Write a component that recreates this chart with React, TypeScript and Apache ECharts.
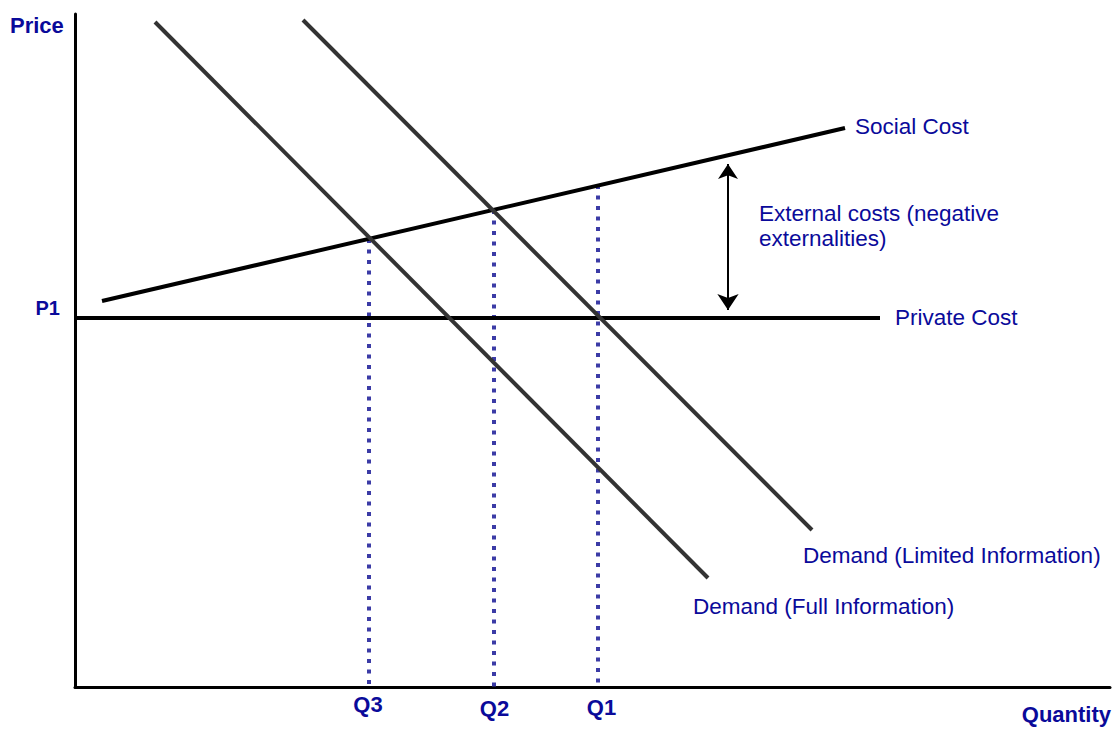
import React, { useEffect, useRef } from "react";
import * as echarts from "echarts";

// Units: quantity and price in arbitrary diagram units
const socialCost = [[27, 386], [770, 559]];
const privateCost = [[0, 369], [805, 369]];
const demandLimited = [[228, 667], [737, 157]];
const demandFull = [[80, 665], [633, 109]];
const quantityNames = ["Q3", "Q2", "Q1"];
const quantityValues = [294, 419, 523];
const quantityPrices = [448, 477, 502];
const externalArrow = [[653, 523], [653, 377]];

const labelTexts = [
  "Social Cost",
  "Private Cost",
  "External costs (negative\nexternalities)",
  "Demand (Limited Information)",
  "Demand (Full Information)",
];
const labelAnchors = [[780, 561], [820, 370], [684, 461], [728, 132], [618, 80.5]];

const axisTexts = ["Price", "P1", "Quantity"];
const axisAnchors = [[-65, 662], [-15, 379], [1036, -27]];
const qLabelPrices = [-17.5, -21, -20.5];
const qLabelQuantities = [293, 419.5, 526.5];

const NAVY = "#0a0a9a";
const FONT = "'Liberation Sans', Arial, sans-serif";

export default function App() {
  const ref = useRef<HTMLDivElement>(null);
  useEffect(() => {
    if (!ref.current) return;
    const chart = echarts.init(ref.current, null, { renderer: "svg" });

    const lineSeries = (name: string, data: number[][], color: string) => ({
      name,
      type: "line",
      data,
      showSymbol: false,
      symbol: "none",
      silent: true,
      clip: false,
      lineStyle: { color, width: 4, cap: "butt" },
      z: 3,
    });

    const dotted = quantityValues.map((q, i) => ({
      name: quantityNames[i] + " line",
      type: "line",
      data: [[q, quantityPrices[i]], [q, 0]],
      symbol: "none",
      showSymbol: false,
      silent: true,
      lineStyle: { color: "#3b3ba6", width: 4, type: [4, 6.5], cap: "butt" },
      z: 2,
    }));

    const textData = [
      ...labelTexts.map((t, i) => ({
        value: labelAnchors[i],
        name: t,
        label: { align: "left", fontWeight: "normal", fontSize: 22.5, lineHeight: 25 },
      })),
      ...axisTexts.map((t, i) => ({
        value: axisAnchors[i],
        name: t,
        label: {
          align: i === 0 ? "left" : "right",
          fontWeight: "bold",
          fontSize: i === 1 ? 20 : 22,
        },
      })),
      ...quantityNames.map((t, i) => ({
        value: [qLabelQuantities[i], qLabelPrices[i]],
        name: t,
        label: { align: "center", fontWeight: "bold", fontSize: 22 },
      })),
    ];

    chart.setOption({
      animation: false,
      grid: { left: 75, right: 7, top: 14, bottom: 43 },
      xAxis: {
        type: "value",
        min: 0,
        max: 1035,
        axisLine: { show: true, onZero: false, lineStyle: { color: "#000", width: 3 } },
        axisTick: { show: false },
        axisLabel: { show: false },
        splitLine: { show: false },
      },
      yAxis: {
        type: "value",
        min: 0,
        max: 673,
        axisLine: { show: true, onZero: false, lineStyle: { color: "#000", width: 3 } },
        axisTick: { show: false },
        axisLabel: { show: false },
        splitLine: { show: false },
      },
      series: [
        ...dotted,
        lineSeries("Social Cost", socialCost, "#000"),
        lineSeries("Private Cost", privateCost, "#000"),
        lineSeries("Demand (Limited Information)", demandLimited, "#333"),
        lineSeries("Demand (Full Information)", demandFull, "#333"),
        {
          name: "External costs",
          type: "lines",
          coordinateSystem: "cartesian2d",
          silent: true,
          symbol: ["arrow", "arrow"],
          symbolSize: [15, 16],
          lineStyle: { color: "#000", width: 2, opacity: 1, curveness: 0 },
          data: [{ coords: externalArrow }],
          z: 4,
        },
        {
          name: "labels",
          type: "scatter",
          symbolSize: 0,
          clip: false,
          silent: true,
          itemStyle: { opacity: 1 },
          data: textData,
          label: {
            show: true,
            position: "inside",
            verticalAlign: "middle",
            color: NAVY,
            opacity: 1,
            fontFamily: FONT,
            formatter: (p: any) => p.name,
          },
          z: 5,
        },
      ],
    });
    return () => chart.dispose();
  }, []);

  return (
    <div
      ref={ref}
      style={{ position: "absolute", left: 0, top: 0, width: 1117, height: 730, background: "#fff" }}
    />
  );
}
